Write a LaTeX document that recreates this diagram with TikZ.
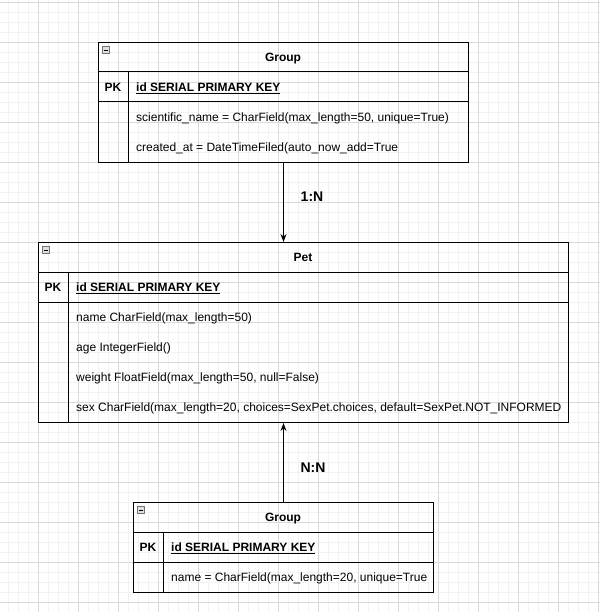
\documentclass[tikz,border=0pt]{standalone}
\usepackage{fontspec}
\setmainfont{Liberation Sans}
\usetikzlibrary{positioning,arrows.meta}

\tikzset{
  minorgrid/.style={draw=black!5, line width=0.6pt},
  majorgrid/.style={draw=black!15, line width=0.8pt},
  entity/.style={draw, line width=1pt, inner sep=0pt, anchor=north west},
  rule/.style={line width=1pt},
  title/.style={font=\fontsize{12}{14}\selectfont\bfseries, anchor=base, inner sep=0pt},
  pkey/.style={font=\fontsize{12}{14}\selectfont\bfseries, anchor=base, inner sep=0pt},
  field/.style={font=\fontsize{12}{14}\selectfont, anchor=base west, inner sep=0pt},
  toggle/.style={draw=black!55, fill=black!12, line width=0.6pt, minimum size=7pt, inner sep=0pt},
  card/.style={font=\fontsize{14}{16}\selectfont\bfseries, anchor=base, inner sep=0pt},
  rel/.style={line width=1pt, -{Stealth[length=8pt,width=6pt]}}
}

\begin{document}
\begin{tikzpicture}[x=1pt,y=-1pt]
  \useasboundingbox (0,0) rectangle (600,612);
  % grid
  \foreach \x in {8,18,...,598} \draw[minorgrid] (\x,0) -- (\x,612);
  \foreach \y in {2,12,...,612} \draw[minorgrid] (0,\y) -- (600,\y);
  \foreach \x in {38,78,...,598} \draw[majorgrid] (\x,0) -- (\x,612);
  \foreach \y in {2,42,...,602} \draw[majorgrid] (0,\y) -- (600,\y);

  % Group (top)
  \node[entity, minimum width=370pt, minimum height=120pt] (group) at (98,42) {};
  \draw[rule] ([yshift=-30pt]group.north west) -- ([yshift=-30pt]group.north east);
  \draw[rule] ([yshift=-60pt]group.north west) -- ([yshift=-60pt]group.north east);
  \draw[rule] ([xshift=30pt,yshift=-30pt]group.north west) -- ([xshift=30pt]group.south west);
  \node[toggle] (grouptg) at (106,50) {};
  \draw[line width=0.8pt] (grouptg.west) ++(1.5,0) -- ([xshift=-1.5pt]grouptg.east);
  \node[title] (grouptitle) at (283,61.5) {Group};
  \node[pkey] (grouppk) at (113,91.5) {PK};
  \node[field] (groupid) at (136,91.5) {\bfseries\underline{id SERIAL PRIMARY KEY}};
  \node[field] (groupf1) at (136,121.5) {scientific\_name = CharField(max\_length=50, unique=True)};
  \node[field] (groupf2) at (136,151.5) {created\_at = DateTimeFiled(auto\_now\_add=True};

  % Pet
  \node[entity, minimum width=530pt, minimum height=180pt] (pet) at (38,242) {};
  \draw[rule] ([yshift=-30pt]pet.north west) -- ([yshift=-30pt]pet.north east);
  \draw[rule] ([yshift=-60pt]pet.north west) -- ([yshift=-60pt]pet.north east);
  \draw[rule] ([xshift=30pt,yshift=-30pt]pet.north west) -- ([xshift=30pt]pet.south west);
  \node[toggle] (pettg) at (46,250) {};
  \draw[line width=0.8pt] (pettg.west) ++(1.5,0) -- ([xshift=-1.5pt]pettg.east);
  \node[title] (pettitle) at (303,261.5) {Pet};
  \node[pkey] (petpk) at (53,291.5) {PK};
  \node[field] (petid) at (76,291.5) {\bfseries\underline{id SERIAL PRIMARY KEY}};
  \node[field] (petf1) at (76,321.5) {name CharField(max\_length=50)};
  \node[field] (petf2) at (76,351.5) {age IntegerField()};
  \node[field] (petf3) at (76,381.5) {weight FloatField(max\_length=50, null=False)};
  \node[field] (petf4) at (76,411.5) {sex CharField(max\_length=20, choices=SexPet.choices, default=SexPet.NOT\_INFORMED};

  % Group (bottom)
  \node[entity, minimum width=300pt, minimum height=90pt] (kind) at (133,502) {};
  \draw[rule] ([yshift=-30pt]kind.north west) -- ([yshift=-30pt]kind.north east);
  \draw[rule] ([yshift=-60pt]kind.north west) -- ([yshift=-60pt]kind.north east);
  \draw[rule] ([xshift=30pt,yshift=-30pt]kind.north west) -- ([xshift=30pt]kind.south west);
  \node[toggle] (kindtg) at (141,510) {};
  \draw[line width=0.8pt] (kindtg.west) ++(1.5,0) -- ([xshift=-1.5pt]kindtg.east);
  \node[title] (kindtitle) at (283,521.5) {Group};
  \node[pkey] (kindpk) at (148,551.5) {PK};
  \node[field] (kindid) at (171,551.5) {\bfseries\underline{id SERIAL PRIMARY KEY}};
  \node[field] (kindf1) at (171,581.5) {name = CharField(max\_length=20, unique=True};

  % relations
  \draw[rel] (group.south) -- (group.south |- pet.north);
  \node[card] (one2many) at (312,202) {1:N};
  \draw[rel] (kind.north) -- (kind.north |- pet.south);
  \node[card] (many2many) at (313,472) {N:N};
\end{tikzpicture}
\end{document}
